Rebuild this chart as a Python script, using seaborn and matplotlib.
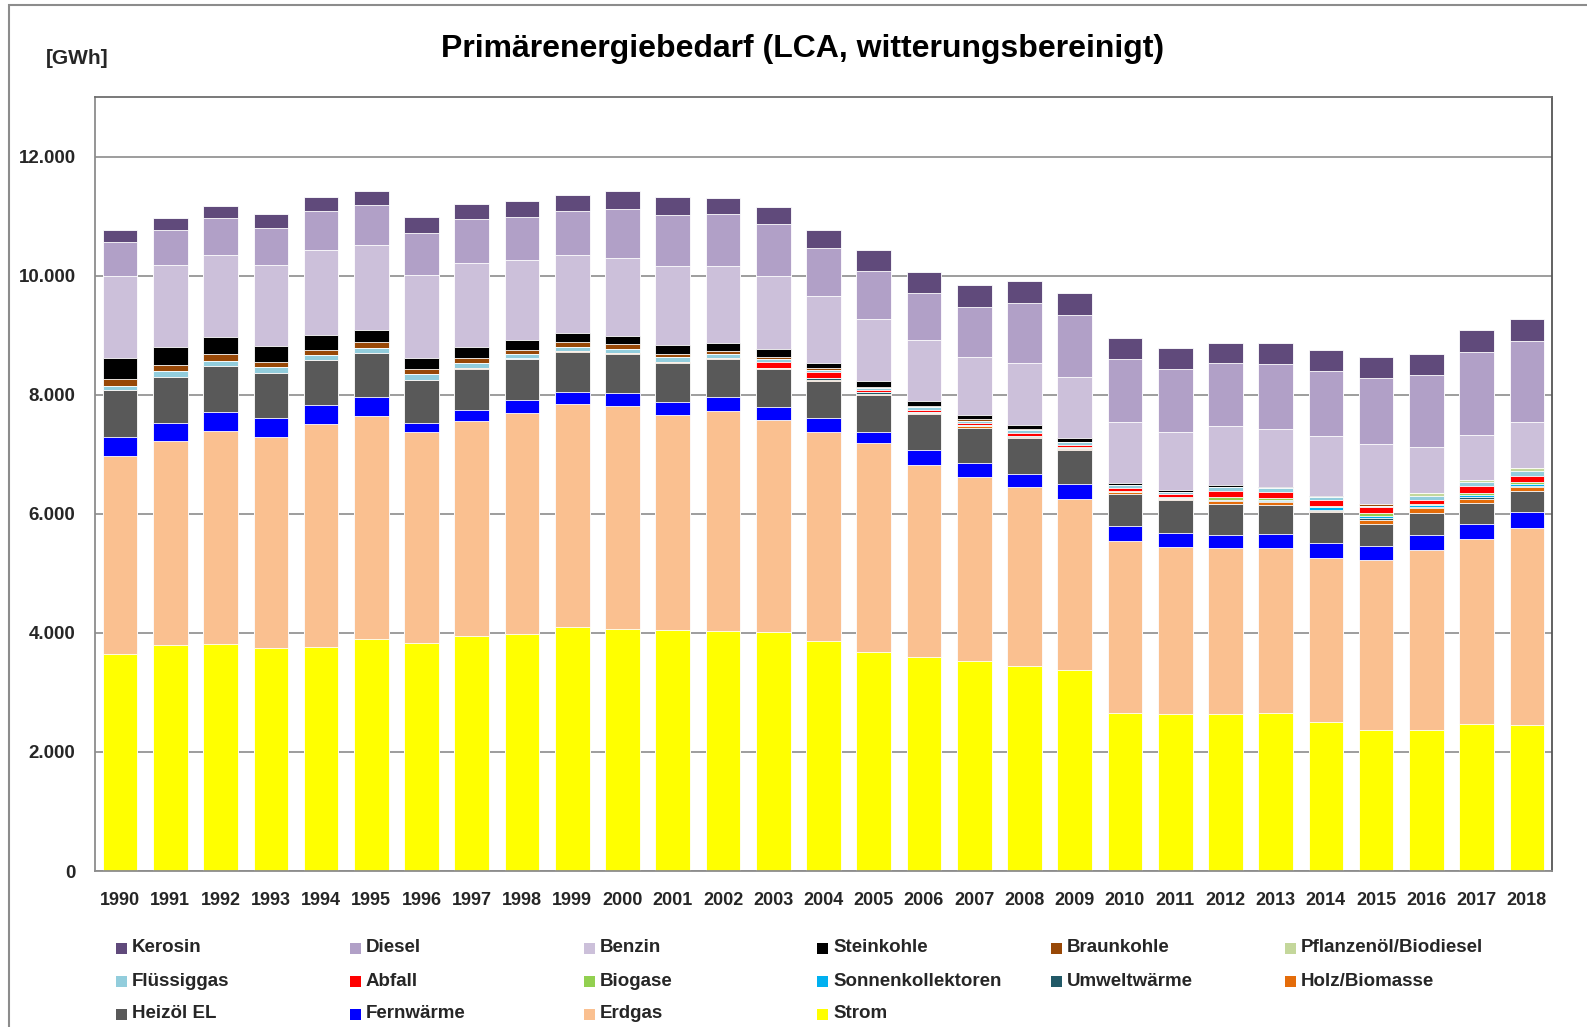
import matplotlib
matplotlib.use("Agg")
import matplotlib.pyplot as plt
from matplotlib.patches import Rectangle
from matplotlib.ticker import FuncFormatter
import numpy as np
import pandas as pd
import seaborn as sns

years = [str(y) for y in range(1990, 2019)]

# values in GWh, stacked from bottom (Strom) to top (Kerosin)
strom = [3650, 3800, 3815, 3750, 3765, 3900, 3835, 3950, 3985, 4105,
         4070, 4055, 4035, 4020, 3865, 3680, 3595, 3530, 3445, 3375,
         2650, 2630, 2630, 2650, 2510, 2375, 2360, 2475, 2445]
erdgas = [3315, 3425, 3580, 3545, 3750, 3740, 3545, 3600, 3705, 3740,
          3745, 3605, 3695, 3560, 3510, 3505, 3230, 3080, 3000, 2875,
          2895, 2810, 2790, 2775, 2750, 2845, 3035, 3105, 3320]
fernwaerme = [330, 295, 320, 315, 320, 320, 145, 200, 215, 200,
              210, 215, 225, 220, 235, 195, 245, 245, 230, 245,
              255, 235, 230, 240, 245, 235, 245, 240, 270]
heizoel = [785, 780, 760, 750, 750, 735, 715, 685, 690, 670,
           655, 660, 645, 625, 625, 620, 610, 590, 590, 580,
           540, 550, 520, 490, 525, 380, 370, 365, 340]
holz = [0, 0, 0, 0, 0, 10, 12, 20, 0, 15,
        15, 15, 15, 20, 20, 15, 12, 25, 28, 15,
        20, 25, 40, 40, 10, 65, 85, 65, 80]
umwelt = [0, 0, 0, 0, 0, 0, 0, 0, 0, 0,
          0, 0, 0, 0, 17, 30, 5, 10, 5, 12,
          5, 5, 14, 14, 28, 28, 22, 33, 17]
sonnen = [0, 0, 0, 0, 0, 0, 0, 0, 20, 5,
          5, 5, 5, 5, 5, 5, 5, 10, 5, 5,
          9, 10, 14, 14, 39, 28, 22, 39, 28]
biogase = [0, 0, 0, 0, 0, 0, 0, 0, 0, 0,
           0, 0, 0, 0, 0, 0, 0, 0, 0, 12,
           10, 10, 45, 45, 28, 50, 28, 28, 39]
abfall = [0, 0, 0, 0, 0, 0, 0, 0, 0, 0,
          0, 0, 0, 106, 100, 33, 39, 39, 56, 39,
          56, 50, 106, 106, 95, 100, 72, 112, 100]
fluessiggas = [67, 90, 89, 106, 83, 84, 89, 84, 67, 71,
               67, 71, 66, 44, 39, 22, 56, 33, 50, 45,
               39, 45, 61, 56, 45, 28, 67, 67, 72]
pflanzenoel = [0, 0, 0, 0, 0, 0, 0, 0, 0, 0,
               0, 0, 0, 0, 0, 0, 0, 0, 0, 0,
               0, 0, 0, 0, 0, 0, 45, 45, 50]
braunkohle = [117, 101, 122, 83, 89, 90, 90, 72, 74, 79,
              78, 50, 51, 34, 30, 28, 11, 22, 22, 10,
              11, 0, 0, 0, 0, 33, 0, 0, 0]
steinkohle = [351, 318, 280, 263, 246, 206, 189, 196, 167, 151,
              139, 163, 123, 129, 90, 105, 89, 72, 67, 55,
              33, 33, 28, 22, 22, 0, 0, 0, 0]
benzin = [1373, 1366, 1372, 1366, 1423, 1428, 1384, 1399, 1339, 1305,
          1317, 1327, 1299, 1227, 1115, 1038, 1016, 971, 1037, 1021,
          1021, 976, 988, 976, 1011, 1004, 776, 742, 781]
diesel = [574, 592, 624, 625, 658, 675, 720, 753, 730, 742,
          821, 854, 871, 870, 815, 803, 791, 849, 1010, 1050,
          1059, 1054, 1060, 1082, 1093, 1115, 1210, 1406, 1356]
kerosin = [207, 194, 213, 235, 229, 228, 261, 241, 263, 279,
           294, 296, 279, 296, 296, 347, 364, 368, 363, 368,
           347, 352, 348, 352, 352, 347, 351, 363, 368]

# 0. Table in stacking order (bottom -> top) with colours
df = pd.DataFrame({
    "Strom": strom,
    "Erdgas": erdgas,
    "Fernwärme": fernwaerme,
    "Heizöl EL": heizoel,
    "Holz/Biomasse": holz,
    "Umweltwärme": umwelt,
    "Sonnenkollektoren": sonnen,
    "Biogase": biogase,
    "Abfall": abfall,
    "Flüssiggas": fluessiggas,
    "Pflanzenöl/Biodiesel": pflanzenoel,
    "Braunkohle": braunkohle,
    "Steinkohle": steinkohle,
    "Benzin": benzin,
    "Diesel": diesel,
    "Kerosin": kerosin,
}, index=years)

colors = {
    "Kerosin": "#604A7B",
    "Diesel": "#B1A0C7",
    "Benzin": "#CCC0DA",
    "Steinkohle": "#000000",
    "Braunkohle": "#984807",
    "Pflanzenöl/Biodiesel": "#C4D79B",
    "Flüssiggas": "#92CDDC",
    "Abfall": "#FF0000",
    "Biogase": "#92D050",
    "Sonnenkollektoren": "#00B0F0",
    "Umweltwärme": "#215967",
    "Holz/Biomasse": "#E46C0A",
    "Heizöl EL": "#595959",
    "Fernwärme": "#0000FF",
    "Erdgas": "#FAC090",
    "Strom": "#FFFF00",
}

# legend order as in the original, row by row
legend_rows = [
    ["Kerosin", "Diesel", "Benzin", "Steinkohle", "Braunkohle", "Pflanzenöl/Biodiesel"],
    ["Flüssiggas", "Abfall", "Biogase", "Sonnenkollektoren", "Umweltwärme", "Holz/Biomasse"],
    ["Heizöl EL", "Fernwärme", "Erdgas", "Strom"],
]

cum = df.cumsum(axis=1)

# 1. Plot
sns.set_style("white")
plt.rcParams["font.family"] = ["Liberation Sans", "DejaVu Sans"]
plt.rcParams["font.weight"] = "bold"

W, H = 1587, 1027
fig = plt.figure(figsize=(W / 100, H / 100), dpi=100)
ax = fig.add_axes([95 / W, 1 - 871 / H, (1552 - 95) / W, (871 - 97) / H])

# overlapping cumulative bars, drawn from the top layer down
for name in reversed(df.columns):
    sns.barplot(x=years, y=cum[name].values, color=colors[name], width=0.69,
                saturation=1, edgecolor="white", linewidth=0.6,
                errorbar=None, ax=ax)

ax.set_xlim(-0.5, len(years) - 0.5)
ax.set_ylim(0, 13000)
ax.set_yticks(np.arange(0, 12001, 2000))
ax.yaxis.set_major_formatter(FuncFormatter(lambda v, p: f"{int(v):,}".replace(",", ".")))
ax.yaxis.grid(True, color="#8c8c8c", linewidth=1.2)
ax.set_axisbelow(True)
ax.set_xlabel("")
ax.set_ylabel("")

ax.tick_params(axis="x", which="major", length=0, pad=15, labelsize=13)
ax.set_xticks(np.arange(-0.5, len(years), 1), minor=True)
ax.tick_params(axis="x", which="minor", length=5, width=1.2, color="#8c8c8c", direction="out")
ax.tick_params(axis="y", length=5, width=1.2, color="#8c8c8c", pad=9, labelsize=13.5, direction="out")
for lab in ax.get_xticklabels() + ax.get_yticklabels():
    lab.set_fontweight("bold")

for side, col in [("left", "#8c8c8c"), ("bottom", "#8c8c8c"), ("top", "#6e6e6e"), ("right", "#555555")]:
    ax.spines[side].set_visible(True)
    ax.spines[side].set_color(col)
    ax.spines[side].set_linewidth(1.3)

# 2. Titles and frame
fig.text(0.5055, 1 - 49 / H, "Primärenergiebedarf (LCA, witterungsbereinigt)",
         ha="center", va="center", fontsize=23, fontweight="bold", color="black")
fig.text(77 / W, 1 - 59 / H, "[GWh]", ha="center", va="center", fontsize=15, fontweight="bold")
fig.add_artist(Rectangle((9 / W, -0.05), 1.2, 1.05 - 5 / H, transform=fig.transFigure,
                         fill=False, edgecolor="#8c8c8c", linewidth=1.5))

# 3. Legend drawn as rows with a fixed pitch
for r, row in enumerate(legend_rows):
    yc = 1 - (948 + 33 * r) / H
    for c, name in enumerate(row):
        x0 = (116 + 233.8 * c) / W
        fig.add_artist(Rectangle((x0, yc - 5.5 / H), 11 / W, 11 / H, transform=fig.transFigure,
                                 facecolor=colors[name], edgecolor="none"))
        fig.text(x0 + 16 / W, yc, name, ha="left", va="center", fontsize=13.5, fontweight="bold")

fig.savefig("out.png", dpi=100)
